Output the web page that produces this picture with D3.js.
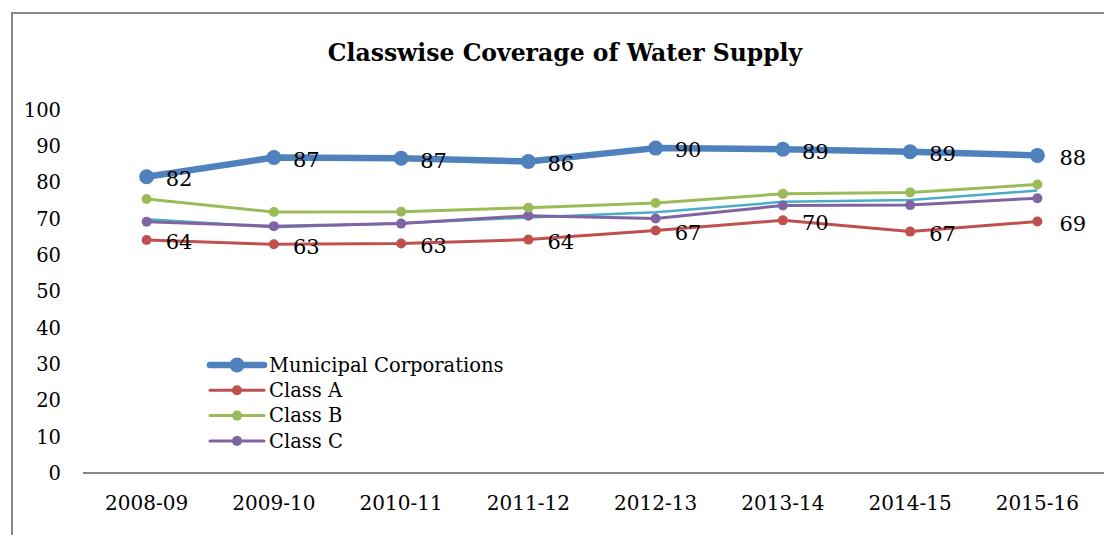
<!DOCTYPE html>
<html>
<head>
<meta charset="utf-8">
<script src="https://cdn.jsdelivr.net/npm/d3@7"></script>
<style>
  body { margin: 0; background: #fff; }
  svg { display: block; font-family: "DejaVu Serif", serif; }
</style>
</head>
<body>
<script>
// data
var years = ["2008-09", "2009-10", "2010-11", "2011-12", "2012-13", "2013-14", "2014-15", "2015-16"];
var municipal = [81.6, 86.9, 86.7, 85.8, 89.5, 89.2, 88.5, 87.5];
var municipalLabels = [82, 87, 87, 86, 90, 89, 89, 88];
var classA = [64.2, 63.0, 63.2, 64.3, 66.8, 69.6, 66.5, 69.3];
var classALabels = [64, 63, 63, 64, 67, 70, 67, 69];
var classB = [75.5, 71.9, 72.0, 73.1, 74.4, 76.9, 77.3, 79.5];
var classC = [69.2, 68.0, 68.7, 70.9, 70.1, 73.7, 73.8, 75.7];
var classD = [69.9, 67.7, 68.8, 70.4, 71.8, 74.7, 75.2, 77.8];
var yTicks = [0, 10, 20, 30, 40, 50, 60, 70, 80, 90, 100];

var W = 1104, H = 535;
var svg = d3.select("body").append("svg").attr("width", W).attr("height", H);

// outer frame (only top and left edges visible)
svg.append("path")
    .attr("d", "M12,535V13H1104")
    .attr("fill", "none")
    .attr("stroke", "#888")
    .attr("stroke-width", 2);

svg.append("text")
    .attr("x", 565)
    .attr("y", 61)
    .attr("text-anchor", "middle")
    .attr("font-weight", "bold")
    .attr("font-size", 23.5)
    .text("Classwise Coverage of Water Supply");

var x = d3.scalePoint().domain(years).range([83, 1101]).padding(0.5);
var y = d3.scaleLinear().domain([0, 100]).range([473, 110]);

// y tick labels
svg.append("g")
    .selectAll("text")
    .data(yTicks)
    .join("text")
    .attr("x", 61)
    .attr("y", (d) => y(d))
    .attr("dy", "0.35em")
    .attr("text-anchor", "end")
    .attr("font-size", 19.5)
    .text((d) => d);

// x axis line
svg.append("line")
    .attr("x1", 83)
    .attr("x2", 1104)
    .attr("y1", y(0))
    .attr("y2", y(0))
    .attr("stroke", "#888")
    .attr("stroke-width", 2);

svg.append("g")
    .selectAll("text")
    .data(years)
    .join("text")
    .attr("x", (d) => x(d))
    .attr("y", 503)
    .attr("dy", "0.35em")
    .attr("text-anchor", "middle")
    .attr("font-size", 20)
    .text((d) => d);

var series = [
    { name: "Class D", values: classD, color: "#4BACC6", width: 2.5, r: 0 },
    { name: "Class C", values: classC, color: "#8064A2", width: 3, r: 5 },
    { name: "Class B", values: classB, color: "#9BBB59", width: 3, r: 5 },
    { name: "Class A", values: classA, color: "#C0504D", width: 3, r: 5 },
    { name: "Municipal Corporations", values: municipal, color: "#4F81BD", width: 6.5, r: 7.5 }
];

var line = d3.line()
    .x((d, i) => x(years[i]))
    .y((d) => y(d));

series.forEach(function (s) {
    var g = svg.append("g");
    g.append("path")
        .attr("d", line(s.values))
        .attr("fill", "none")
        .attr("stroke", s.color)
        .attr("stroke-width", s.width)
        .attr("stroke-linejoin", "round");
    if (s.r > 0) {
        g.selectAll("circle")
            .data(s.values)
            .join("circle")
            .attr("cx", (d, i) => x(years[i]))
            .attr("cy", (d) => y(d))
            .attr("r", s.r)
            .attr("fill", s.color);
    }
});

// data labels
function drawLabels(values, labels) {
    svg.append("g")
        .selectAll("text")
        .data(values)
        .join("text")
        .attr("x", (d, i) => x(years[i]) + (i == years.length - 1 ? 22 : 19))
        .attr("y", (d) => y(d) + 2)
        .attr("dy", "0.35em")
        .attr("font-size", 21)
        .text((d, i) => labels[i]);
}
drawLabels(municipal, municipalLabels);
drawLabels(classA, classALabels);

// legend
var legendItems = series.filter((s) => s.r > 0).reverse();
var lg = svg.append("g")
    .selectAll("g")
    .data(legendItems)
    .join("g")
    .attr("transform", (d, i) => "translate(210," + (365 + i * 25.3) + ")");
lg.append("line")
    .attr("x1", 0)
    .attr("x2", 54)
    .attr("stroke", (d) => d.color)
    .attr("stroke-width", (d) => d.width)
    .attr("stroke-linecap", "round");
lg.append("circle")
    .attr("cx", 27)
    .attr("r", (d) => d.r)
    .attr("fill", (d) => d.color);
lg.append("text")
    .attr("x", 59)
    .attr("dy", "0.35em")
    .attr("font-size", 19.5)
    .text((d) => d.name);
</script>
</body>
</html>
